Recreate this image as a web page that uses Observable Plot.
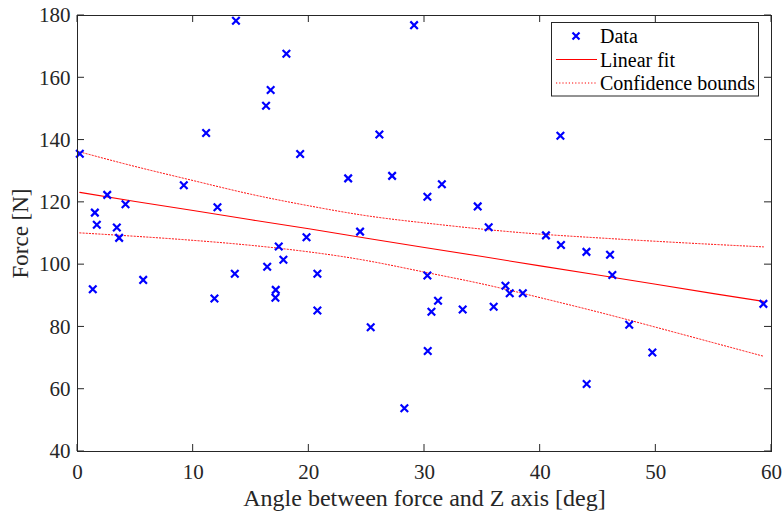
<!DOCTYPE html>
<html>
<head>
<meta charset="utf-8">
<script src="https://cdn.jsdelivr.net/npm/d3@7"></script>
<script src="https://cdn.jsdelivr.net/npm/@observablehq/plot@0.6"></script>
<style>
  html, body { margin: 0; padding: 0; background: white; }
  svg { display: block; }
</style>
</head>
<body>
<script>
// Data points (angle in deg, force in N)
const angle = [0.2, 1.32, 1.5, 1.67, 2.57, 3.4, 3.6, 4.15, 5.68, 9.19, 11.12, 11.84, 12.1, 13.6, 13.7,
  16.3, 16.4, 16.7, 17.11, 17.14, 17.4, 17.8, 18.06, 19.25, 19.8, 20.74, 20.74, 23.4, 24.43, 25.35,
  26.1, 27.2, 28.26, 29.1, 30.25, 30.25, 30.28, 30.6, 31.17, 31.5, 33.3, 34.6, 35.55, 35.98, 37.0,
  37.37, 38.5, 40.5, 41.75, 41.8, 44.0, 44.02, 46.04, 46.24, 47.7, 49.7, 59.3];
const force = [135.6, 92.1, 116.7, 112.8, 122.4, 111.9, 108.6, 119.4, 95.1, 125.5, 142.3, 89.1, 118.4, 97.1, 178.3,
  151.0, 99.3, 156.1, 89.4, 91.9, 105.8, 101.6, 167.7, 135.5, 108.8, 97.1, 85.3, 127.7, 110.6, 79.9,
  141.8, 128.5, 53.9, 176.9, 121.8, 96.5, 72.3, 84.9, 88.4, 125.8, 85.6, 118.7, 112.0, 86.5, 93.2,
  90.8, 90.8, 109.4, 141.4, 106.3, 104.1, 61.7, 103.2, 96.7, 80.7, 71.8, 87.4];

// Linear fit and confidence bounds
const fitX     = [0.2,   5,     10,    15,    20,    25,    30,    35,    40,   45,    50,    55,    59.3];
const fitY     = [123.2, 120.3, 117.4, 114.4, 111.5, 108.5, 105.5, 102.6, 99.6, 96.7,  93.7,  90.7,  88.2];
const upperY   = [136.2, 131.5, 127.0, 122.6, 118.9, 115.7, 113.4, 111.4, 109.8, 108.6, 107.5, 106.5, 105.7];
const lowerY   = [110.2, 109.1, 107.8, 106.2, 104.1, 101.3, 97.6,  93.8,  89.4, 84.8,  79.9,  74.9,  70.6];

// Axes
const xTicks = [0, 10, 20, 30, 40, 50, 60];
const yTicks = [40, 60, 80, 100, 120, 140, 160, 180];
const xLabel = "Angle between force and Z axis [deg]";
const yLabel = "Force [N]";
const legendLabels = ["Data", "Linear fit", "Confidence bounds"];

const points = angle.map((a, i) => ({a, f: force[i]}));
const fit = fitX.map((x, i) => ({x, y: fitY[i], up: upperY[i], lo: lowerY[i]}));

const font = "Liberation Serif, Times New Roman, Times, serif";
const axisColor = "#262626";

const plot = Plot.plot({
  width: 784, height: 512,
  marginLeft: 77, marginRight: 13, marginTop: 15, marginBottom: 61,
  style: {fontFamily: font, fontSize: "21px", color: axisColor, background: "white", overflow: "visible"},
  x: {domain: [0, 60], label: null},
  y: {domain: [40, 180], label: null},
  marks: [
    Plot.axisX(xTicks, {tickSize: 0, tickPadding: 13, fontSize: 21, fill: axisColor, label: null}),
    Plot.axisY(yTicks, {tickSize: 0, tickPadding: 7, fontSize: 21, fill: axisColor, label: null}),
    Plot.line(fit, {x: "x", y: "up", stroke: "red", strokeWidth: 1, strokeDasharray: "1.2,2", curve: "natural"}),
    Plot.line(fit, {x: "x", y: "lo", stroke: "red", strokeWidth: 1, strokeDasharray: "1.2,2", curve: "natural"}),
    Plot.line(fit, {x: "x", y: "y", stroke: "red", strokeWidth: 1.1}),
    Plot.dot(points, {x: "a", y: "f", symbol: "times", r: 3.5, stroke: "blue", strokeWidth: 2.2}),
    Plot.frame({stroke: axisColor, strokeWidth: 1}),
    Plot.text([xLabel], {frameAnchor: "bottom", lineAnchor: "middle", textAnchor: "middle", dy: 47, fontSize: 24, fontFamily: font, fill: axisColor}),
    Plot.text([yLabel], {frameAnchor: "left", lineAnchor: "middle", textAnchor: "middle", dx: -57, rotate: -90, fontSize: 23, fontFamily: font, fill: axisColor})
  ]
});

document.body.appendChild(plot);

// Inward ticks on all four sides (MATLAB style), placed through the plot's scales
const sx = plot.scale("x"), sy = plot.scale("y");
const svg = d3.select(plot);
const x0 = sx.apply(0), x1 = sx.apply(60), y0 = sy.apply(40), y1 = sy.apply(180);
const tl = 7;
const g = svg.append("g").attr("stroke", axisColor).attr("stroke-width", 1);
for (const t of xTicks) {
  const px = sx.apply(t);
  g.append("line").attr("x1", px).attr("x2", px).attr("y1", y0).attr("y2", y0 - tl);
  g.append("line").attr("x1", px).attr("x2", px).attr("y1", y1).attr("y2", y1 + tl);
}
for (const t of yTicks) {
  const py = sy.apply(t);
  g.append("line").attr("x1", x0).attr("x2", x0 + tl).attr("y1", py).attr("y2", py);
  g.append("line").attr("x1", x1).attr("x2", x1 - tl).attr("y1", py).attr("y2", py);
}

// Legend box
const lg = svg.append("g").attr("font-size", 20).attr("fill", "#000").attr("text-anchor", "start");
lg.append("rect").attr("x", 551.5).attr("y", 22.5).attr("width", 207).attr("height", 73.5)
  .attr("fill", "white").attr("stroke", axisColor).attr("stroke-width", 1);
const rowsY = [36, 59.5, 83];
// Data marker
const mx = 576, my = rowsY[0], mr = 3.5;
lg.append("path").attr("d", `M${mx - mr},${my - mr}L${mx + mr},${my + mr}M${mx - mr},${my + mr}L${mx + mr},${my - mr}`)
  .attr("stroke", "blue").attr("stroke-width", 2.2).attr("fill", "none");
lg.append("line").attr("x1", 556).attr("x2", 597).attr("y1", rowsY[1]).attr("y2", rowsY[1])
  .attr("stroke", "red").attr("stroke-width", 1.1);
lg.append("line").attr("x1", 556).attr("x2", 597).attr("y1", rowsY[2]).attr("y2", rowsY[2])
  .attr("stroke", "red").attr("stroke-width", 1).attr("stroke-dasharray", "1.2,2");
legendLabels.forEach((t, i) => {
  lg.append("text").attr("x", 600).attr("y", rowsY[i]).attr("dy", "0.35em").attr("text-anchor", "start").text(t);
});

// Serif font everywhere (matching the reference)
svg.selectAll("text").attr("font-family", font).style("font-family", font);
</script>
</body>
</html>
